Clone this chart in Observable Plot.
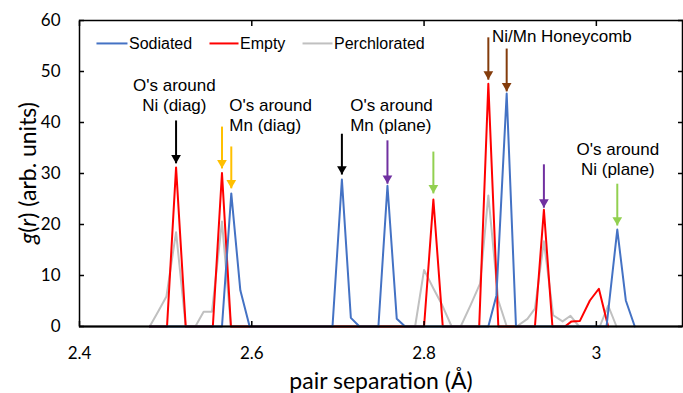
<!DOCTYPE html>
<html><head><meta charset="utf-8">
<script src="https://cdn.jsdelivr.net/npm/d3@7"></script>
<script src="https://cdn.jsdelivr.net/npm/@observablehq/plot@0.6"></script>
<style>body{margin:0;background:#fff}#chart{width:683px;height:393px}</style>
</head><body><div id="chart"></div>
<script>
// ---- data ----
const sodiatedX = [2.4815, 2.5654, 2.5762, 2.5867, 2.5975, 2.6937, 2.7046, 2.7150, 2.7250, 2.7470, 2.7575, 2.7683, 2.7780, 2.8746, 2.8840, 2.8959, 2.9067, 3.0118, 3.0243, 3.0342, 3.0446];
const sodiatedY = [0, 0, 26.1, 7.1, 0, 0, 28.8, 1.7, 0, 0, 27.6, 1.5, 0, 0, 6.1, 45.7, 0, 0, 19.0, 5.1, 0];
const emptyX = [2.4815, 2.5016, 2.5121, 2.5233, 2.5548, 2.5654, 2.5758, 2.8000, 2.8108, 2.8217, 2.8640, 2.8746, 2.8862, 2.9287, 2.9391, 2.9490, 2.9635, 2.9712, 2.9809, 2.9925, 3.0029, 3.0137];
const emptyY = [0, 0, 31.2, 0, 0, 30.1, 0, 0, 24.9, 0, 0, 47.6, 0, 0, 22.9, 0, 0, 1.0, 1.1, 5.1, 7.4, 0];
const perchX = [2.4815, 2.4915, 2.5009, 2.5121, 2.5233, 2.5345, 2.5441, 2.5538, 2.5654, 2.5758, 2.7896, 2.8000, 2.8110, 2.8210, 2.8320, 2.8425, 2.8540, 2.8650, 2.8746, 2.8862, 2.8960, 2.9075, 2.9200, 2.9287, 2.9391, 2.9499, 2.9608, 2.9700, 2.9800, 3.0040, 3.0137, 3.0234];
const perchY = [0, 3.0, 5.9, 18.5, 0, 0, 2.9, 2.9, 20.6, 0, 0, 11.1, 7.4, 4.2, 0, 0, 4.2, 8.4, 25.7, 5.1, 0, 0, 1.5, 3.5, 16.7, 2.2, 1.0, 2.1, 0, 0, 4.1, 0];

const seriesNames = ["Sodiated", "Empty", "Perchlorated"];
const seriesColors = ["#4472C4", "#FF0000", "#C0C0C0"];

const xTicks = [2.4, 2.6, 2.8, 3];
const xTickLabels = ["2.4", "2.6", "2.8", "3"];
const yTicks = [0, 10, 20, 30, 40, 50, 60];
const yTickLabels = ["0", "10", "20", "30", "40", "50", "60"];
const xTitle = "pair separation (Å)";
const yTitleParts = [["g", true], ["(", false], ["r", true], [") (arb. units)", false]];

// annotation arrows (x at peak, y from top to tip, data units)
const arrowX = [2.5121, 2.5654, 2.5762, 2.7046, 2.7575, 2.8108, 2.8746, 2.8959, 2.9391, 3.0243];
const arrowTop = [40.4, 39.2, 35.3, 37.8, 36.5, 34.3, 56.7, 54.5, 31.8, 28.0];
const arrowTip = [32.0, 31.0, 27.1, 29.8, 28.0, 26.1, 48.4, 46.1, 23.3, 19.8];
const arrowColor = ["#000000", "#FFC000", "#FFC000", "#000000", "#7030A0", "#92D050", "#843C0C", "#843C0C", "#7030A0", "#92D050"];

// annotation labels
const labelText = ["O's around\nNi (diag)", "O's around\nMn (diag)", "O's around\nMn (plane)", "Ni/Mn Honeycomb", "O's around\nNi (plane)"];
const labelX = [2.5101, 2.5739, 2.7142, 2.8788, 3.0249];
const labelY = [45.5, 41.6, 41.6, 57.1, 33.0];
const labelAnchor = ["middle", "start", "start", "start", "middle"];

// ---- build ----
const rows = (xs, ys, s) => xs.map((x, i) => ({x, y: ys[i], s}));
const sod = rows(sodiatedX, sodiatedY, seriesNames[0]);
const emp = rows(emptyX, emptyY, seriesNames[1]);
const per = rows(perchX, perchY, seriesNames[2]);
const arrows = arrowX.map((x, i) => ({x, top: arrowTop[i], tip: arrowTip[i], c: arrowColor[i]}));
const labels = labelText.map((t, i) => ({t, x: labelX[i], y: labelY[i], a: labelAnchor[i]}));

// legend layout (inside plot, top-left)
const legendY = 55.5;
const legendSpan = [[2.4197, 2.4557], [2.5509, 2.5846], [2.6589, 2.6937]];
const legend = seriesNames.map((n, i) => ({n, c: seriesColors[i], x1: legendSpan[i][0], x2: legendSpan[i][1]}));

const annoFont = "'Liberation Sans', Arial, sans-serif";
const labelOpts = (anchor) => ({x: "x", y: "y", text: "t", textAnchor: anchor, lineAnchor: "middle", lineHeight: 1.18, fontSize: 17, fontFamily: annoFont, fill: "#000"});

const plot = Plot.plot({
  width: 683, height: 393,
  marginLeft: 79, marginRight: 1, marginTop: 20, marginBottom: 67,
  x: {domain: [2.4, 3.1]},
  y: {domain: [0, 60]},
  style: {fontFamily: "Lato, sans-serif", fontSize: "16px", background: "#fff", color: "#000", overflow: "visible"},
  marks: [
    Plot.line(per, {x: "x", y: "y", stroke: seriesColors[2], strokeWidth: 2}),
    Plot.line(emp, {x: "x", y: "y", stroke: seriesColors[1], strokeWidth: 2}),
    Plot.line(sod, {x: "x", y: "y", stroke: seriesColors[0], strokeWidth: 2}),
    Plot.ruleY([0], {stroke: "#000", strokeWidth: 2}),
    Plot.frame({stroke: "#000", strokeWidth: 1.5}),
    Plot.axisY({anchor: "left", ticks: yTicks, tickFormat: (d) => yTickLabels[yTicks.indexOf(d)], tickSize: -5, tickPadding: 24, label: null, fontSize: 17, strokeWidth: 1.5}),
    Plot.axisY({anchor: "right", ticks: yTicks, tickFormat: () => "", tickSize: -5, label: null, strokeWidth: 1.5}),
    Plot.axisX({anchor: "bottom", ticks: xTicks, tickFormat: (d) => xTickLabels[xTicks.indexOf(d)], tickSize: -5, tickPadding: 25, label: null, fontSize: 17, strokeWidth: 1.5}),
    Plot.axisX({anchor: "top", ticks: xTicks, tickFormat: () => "", tickSize: -5, label: null, strokeWidth: 1.5}),
    Plot.link(arrows, {x1: "x", x2: "x", y1: "top", y2: "tip", stroke: "c", strokeWidth: 2}),
    Plot.dot(arrows, {x: "x", y: "tip", fill: "c", symbol: "triangle", rotate: 180, r: 3.6, dy: -5.5}),
    Plot.text(labels.filter((d) => d.a === "middle"), labelOpts("middle")),
    Plot.text(labels.filter((d) => d.a === "start"), labelOpts("start")),
    Plot.link(legend, {x1: "x1", x2: "x2", y1: legendY, y2: legendY, stroke: "c", strokeWidth: 2}),
    Plot.text(legend, {x: "x2", y: legendY, text: "n", textAnchor: "start", dx: 1.5, fontSize: 16, fontFamily: annoFont, fill: "#000"}),
    Plot.text([xTitle], {frameAnchor: "bottom", text: (d) => d, dy: 55, lineAnchor: "middle", fontSize: 23, fontFamily: "Lato, sans-serif", fill: "#000"})
  ]
});

const svg = d3.select(plot);
const yt = svg.append("text")
  .attr("transform", "translate(27,173) rotate(-90)")
  .attr("text-anchor", "middle")
  .attr("dominant-baseline", "central")
  .attr("font-family", "Lato, sans-serif")
  .attr("font-size", 23)
  .attr("fill", "#000");
yTitleParts.forEach(([t, it]) => yt.append("tspan").attr("font-style", it ? "italic" : "normal").text(t));

document.getElementById("chart").appendChild(plot);
</script>
</body></html>
